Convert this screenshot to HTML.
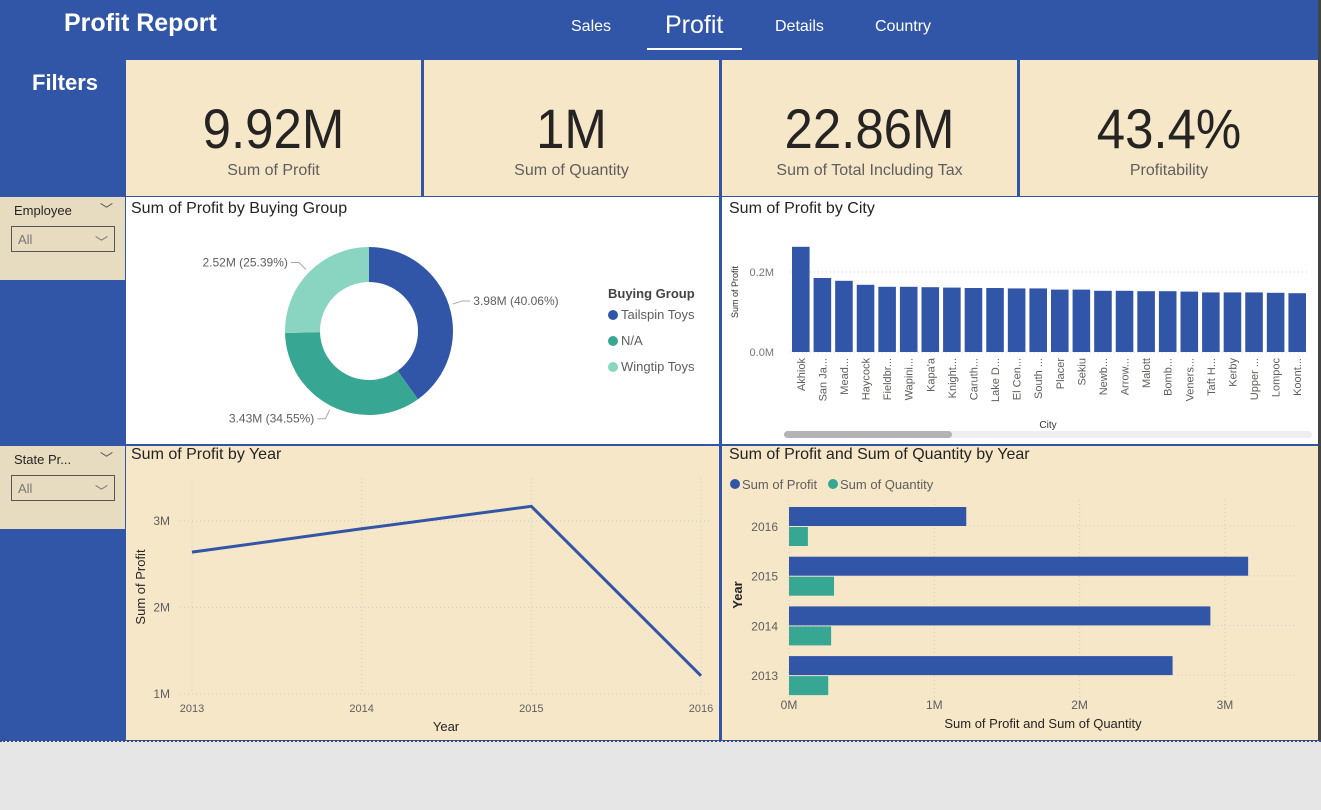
<!DOCTYPE html>
<html><head><meta charset="utf-8"><style>
body{margin:0;width:1321px;height:810px;overflow:hidden;background:#e6e6e6;font-family:"Liberation Sans",sans-serif;position:relative}
.abs{position:absolute}
.card{position:absolute;background:#f6e7c9;text-align:center;color:#252423}
.card .v{font-size:56px;position:absolute;left:0;right:0;top:36px;transform:scaleX(0.91)}
.card .l{font-size:16px;color:#605e5c;position:absolute;left:0;right:0;top:102px}
.title{position:absolute;font-size:16px;color:#252423}
.slicer{position:absolute;left:0;width:125px;background:#e8dcc0}
.slicer .t{position:absolute;left:14px;top:6px;font-size:13px;color:#252423}
.slicer .c{position:absolute;right:12px;top:2px;font-size:13px;color:#555}
.slicer .b{position:absolute;left:11px;top:29px;width:104px;height:26px;border:1px solid #555;font-size:13px;color:#777;box-sizing:border-box;padding:5px 6px}
svg text{font-family:"Liberation Sans",sans-serif}
</style></head><body>
<div class="abs" style="left:0;top:0;width:1318px;height:741px;background:#3256a7"></div>
<div class="abs" style="left:1318px;top:0;width:3px;height:741px;background:#444"></div>
<div class="abs" style="left:0;top:740px;width:1321px;border-top:2px dotted #3a4a7a"></div>
<div class="abs" style="left:64px;top:9px;font-size:25px;font-weight:bold;color:#fff">Profit Report</div>
<div class="abs" style="left:571px;top:18px;font-size:16px;color:#fff">Sales</div>
<div class="abs" style="left:665px;top:11px;font-size:25px;color:#fff">Profit</div>
<div class="abs" style="left:647px;top:48px;width:95px;height:2px;background:#fff"></div>
<div class="abs" style="left:775px;top:18px;font-size:16px;color:#fff">Details</div>
<div class="abs" style="left:875px;top:18px;font-size:16px;color:#fff">Country</div>
<div class="abs" style="left:32px;top:70px;font-size:22px;font-weight:bold;color:#fff">Filters</div>

<div class="card" style="left:126px;top:60px;width:295px;height:136px"><div class="v">9.92M</div><div class="l">Sum of Profit</div></div>
<div class="card" style="left:424px;top:60px;width:295px;height:136px"><div class="v">1M</div><div class="l">Sum of Quantity</div></div>
<div class="card" style="left:722px;top:60px;width:295px;height:136px"><div class="v">22.86M</div><div class="l">Sum of Total Including Tax</div></div>
<div class="card" style="left:1020px;top:60px;width:298px;height:136px"><div class="v">43.4%</div><div class="l">Profitability</div></div>

<div class="slicer" style="top:197px;height:83px"><div class="t">Employee</div><div class="c">﹀</div><div class="b">All<span style="float:right">﹀</span></div></div>
<div class="slicer" style="top:446px;height:83px"><div class="t">State Pr...</div><div class="c">﹀</div><div class="b">All<span style="float:right">﹀</span></div></div>

<div class="abs" style="left:126px;top:197px;width:593px;height:247px;background:#fff"></div>
<div class="title" style="left:131px;top:200px">Sum of Profit by Buying Group</div>
<svg class="abs" style="left:126px;top:197px" width="593" height="247" id="donut"></svg>

<div class="abs" style="left:722px;top:197px;width:596px;height:247px;background:#fff"></div>
<div class="title" style="left:729px;top:200px">Sum of Profit by City</div>
<svg class="abs" style="left:0;top:0" width="1321" height="810" id="city"></svg>

<div class="abs" style="left:126px;top:446px;width:593px;height:294px;background:#f6e7c9"></div>
<div class="title" style="left:131px;top:446px">Sum of Profit by Year</div>
<svg class="abs" style="left:0;top:0" width="1321" height="810" id="line"></svg>

<div class="abs" style="left:722px;top:446px;width:596px;height:294px;background:#f6e7c9"></div>
<div class="title" style="left:729px;top:446px">Sum of Profit and Sum of Quantity by Year</div>
<svg class="abs" style="left:0;top:0" width="1321" height="810" id="bar"></svg>

<script>
const NS='http://www.w3.org/2000/svg';
function mk(p,t,a,txt){const e=document.createElementNS(NS,t);for(const k in a)e.setAttribute(k,a[k]);if(txt!==undefined)e.textContent=txt;p.appendChild(e);return e;}

const groups=['Tailspin Toys','N/A','Wingtip Toys'];
const groupValues=[3.98,3.43,2.52];
const groupLabels=['3.98M (40.06%)','3.43M (34.55%)','2.52M (25.39%)'];
const cities=['Akhiok','San Ja...','Mead...','Haycock','Fieldbr...','Wapini...',"Kapa'a",'Knight...','Caruth...','Lake D...','El Cen...','South ...','Placer','Sekiu','Newb...','Arrow...','Malott','Bomb...','Veners...','Taft H...','Kerby','Upper ...','Lompoc','Koont...'];
const cityProfit=[0.263,0.185,0.178,0.168,0.163,0.163,0.162,0.161,0.160,0.160,0.159,0.159,0.156,0.156,0.153,0.153,0.152,0.152,0.151,0.149,0.149,0.149,0.148,0.147];
const cityTicks=[0,0.2];
const cityTickLabels=['0.0M','0.2M'];
const years=[2013,2014,2015,2016];
const yearProfit=[2.64,2.91,3.17,1.21];
const lineTicks=[1,2,3];
const lineTickLabels=['1M','2M','3M'];
const barYears=['2016','2015','2014','2013'];
const barProfit=[1.22,3.16,2.90,2.64];
const barQuantity=[0.13,0.31,0.29,0.27];
const barTicks=[0,1,2,3];
const barTickLabels=['0M','1M','2M','3M'];

const colors=['#3256a7','#37a794','#8ad4c2'];
(function(){
 const s=document.getElementById('donut');const cx=243,cy=134,R=84,r=49;
 const tot=groupValues.reduce((a,b)=>a+b,0);let a0=0;
 groupValues.forEach((v,i)=>{const a1=a0+v/tot*2*Math.PI;
  const p=(a,rr)=>[cx+rr*Math.sin(a),cy-rr*Math.cos(a)];const lg=(a1-a0)>Math.PI?1:0;
  const [x0,y0]=p(a0,R),[x1,y1]=p(a1,R),[x2,y2]=p(a1,r),[x3,y3]=p(a0,r);
  const el=mk(s,'path',{d:`M${x0},${y0}A${R},${R} 0 ${lg} 1 ${x1},${y1}L${x2},${y2}A${r},${r} 0 ${lg} 0 ${x3},${y3}Z`,fill:colors[i]});
  
  
  const am=(a0+a1)/2;const [lx,ly]=p(am,R+4);const [ex,ey]=p(am,R+14);const right=Math.sin(am)>0;
  mk(s,'polyline',{points:`${lx},${ly} ${ex},${ey} ${ex+(right?8:-8)},${ey}`,fill:'none',stroke:'#aaa'});
  const t=mk(s,'text',{x:ex+(right?11:-11),y:ey+4,'font-size':12,fill:'#605e5c','text-anchor':right?'start':'end'},groupLabels[i]);
  
  
  a0=a1;});
 const lt=mk(s,'text',{x:482,y:101,'font-size':13,'font-weight':'bold',fill:'#444'},'Buying Group');
 
 
 groups.forEach((g,i)=>{mk(s,'circle',{cx:487,cy:118+i*26,r:5,fill:colors[i]});
  const t=mk(s,'text',{x:495,y:122+i*26,'font-size':13,fill:'#605e5c'},g);
  
  });
})();
(function(){
 const s=document.getElementById('city');const x0=790,x1=1308,yb=352,k=400;
 const y=v=>yb-v*k;const bw=(x1-x0)/cities.length;
 cityTicks.forEach((t,i)=>{mk(s,'line',{x1:x0,x2:x1,y1:y(t),y2:y(t),stroke:'#ccc','stroke-dasharray':'1,3'});
  mk(s,'text',{x:x0-16,y:y(t)+4,'font-size':11,fill:'#777','text-anchor':'end'},cityTickLabels[i]);});
 cities.forEach((c,i)=>{const bx=x0+i*bw+2;
  const b=mk(s,'rect',{x:bx,y:y(cityProfit[i]),width:bw-4,height:cityProfit[i]*k,fill:'#3256a7'});
  
  
  const cx=bx+(bw-4)/2+4;
  mk(s,'text',{x:cx,y:358,'font-size':11,fill:'#605e5c','text-anchor':'end',transform:`rotate(-90 ${cx} 358)`},c);});
 const yt=mk(s,'text',{x:738,y:292,'font-size':9,fill:'#333','text-anchor':'middle',transform:'rotate(-90 738 292)'},'Sum of Profit');
 
 
 const xt=mk(s,'text',{x:1048,y:428,'font-size':10,fill:'#333','text-anchor':'middle'},'City');
 
 
 mk(s,'rect',{x:784,y:431,width:528,height:7,rx:3.5,fill:'#eee'});
 const sb=mk(s,'rect',{x:784,y:431,width:168,height:7,rx:3.5,fill:'#b3b3b3'});
 
 
})();
(function(){
 const s=document.getElementById('line');const xa=192,xb=701,ya=694,k=86.5;
 const x=v=>xa+(v-years[0])/(years[years.length-1]-years[0])*(xb-xa);const y=v=>ya-(v-1)*k;
 years.forEach(yr=>{mk(s,'line',{x1:x(yr),x2:x(yr),y1:478,y2:694,stroke:'#ccc','stroke-dasharray':'1,3'});
  mk(s,'text',{x:x(yr),y:712,'font-size':11,fill:'#605e5c','text-anchor':'middle'},yr);});
 lineTicks.forEach((t,i)=>{mk(s,'line',{x1:180,x2:710,y1:y(t),y2:y(t),stroke:'#ccc','stroke-dasharray':'1,3'});
  mk(s,'text',{x:170,y:y(t)+4,'font-size':12,fill:'#605e5c','text-anchor':'end'},lineTickLabels[i]);});
 const pl=mk(s,'polyline',{points:years.map((yr,i)=>x(yr)+','+y(yearProfit[i])).join(' '),fill:'none',stroke:'#3256a7','stroke-width':3});
 
 
 const xt=mk(s,'text',{x:446,y:731,'font-size':13,fill:'#252423','text-anchor':'middle'},'Year');
 
 
 const yt=mk(s,'text',{x:145,y:587,'font-size':13,fill:'#252423','text-anchor':'middle',transform:'rotate(-90 145 587)'},'Sum of Profit');
 
 
})();
(function(){
 const s=document.getElementById('bar');const x0=789,k=145.3;const x=v=>x0+v*k;
 barTicks.forEach((t,i)=>{mk(s,'line',{x1:x(t),x2:x(t),y1:500,y2:700,stroke:'#ccc','stroke-dasharray':'1,3'});
  mk(s,'text',{x:x(t),y:709,'font-size':12,fill:'#605e5c','text-anchor':'middle'},barTickLabels[i]);});
 barYears.forEach((yr,i)=>{const c=526+i*49.7;
  mk(s,'line',{x1:x0,x2:1295,y1:c,y2:c,stroke:'#ccc','stroke-dasharray':'1,3'});
  const b1=mk(s,'rect',{x:x0,y:c-19,width:barProfit[i]*k,height:19,fill:'#3256a7'});
  
  
  const b2=mk(s,'rect',{x:x0,y:c+1,width:barQuantity[i]*k,height:19,fill:'#37a794'});
  
  
  mk(s,'text',{x:778,y:c+5,'font-size':12,fill:'#605e5c','text-anchor':'end'},yr);});
 mk(s,'circle',{cx:735,cy:484,r:5,fill:'#3256a7'});
 const l1=mk(s,'text',{x:742,y:489,'font-size':13,fill:'#605e5c'},'Sum of Profit');
 
 
 mk(s,'circle',{cx:833,cy:484,r:5,fill:'#37a794'});
 const l2=mk(s,'text',{x:840,y:489,'font-size':13,fill:'#605e5c'},'Sum of Quantity');
 
 
 const xt=mk(s,'text',{x:1043,y:728,'font-size':13,fill:'#252423','text-anchor':'middle'},'Sum of Profit and Sum of Quantity');
 
 
 const yt=mk(s,'text',{x:742,y:595,'font-size':13,'font-weight':'bold',fill:'#252423','text-anchor':'middle',transform:'rotate(-90 742 595)'},'Year');
 
 
})();
</script>
</body></html>
